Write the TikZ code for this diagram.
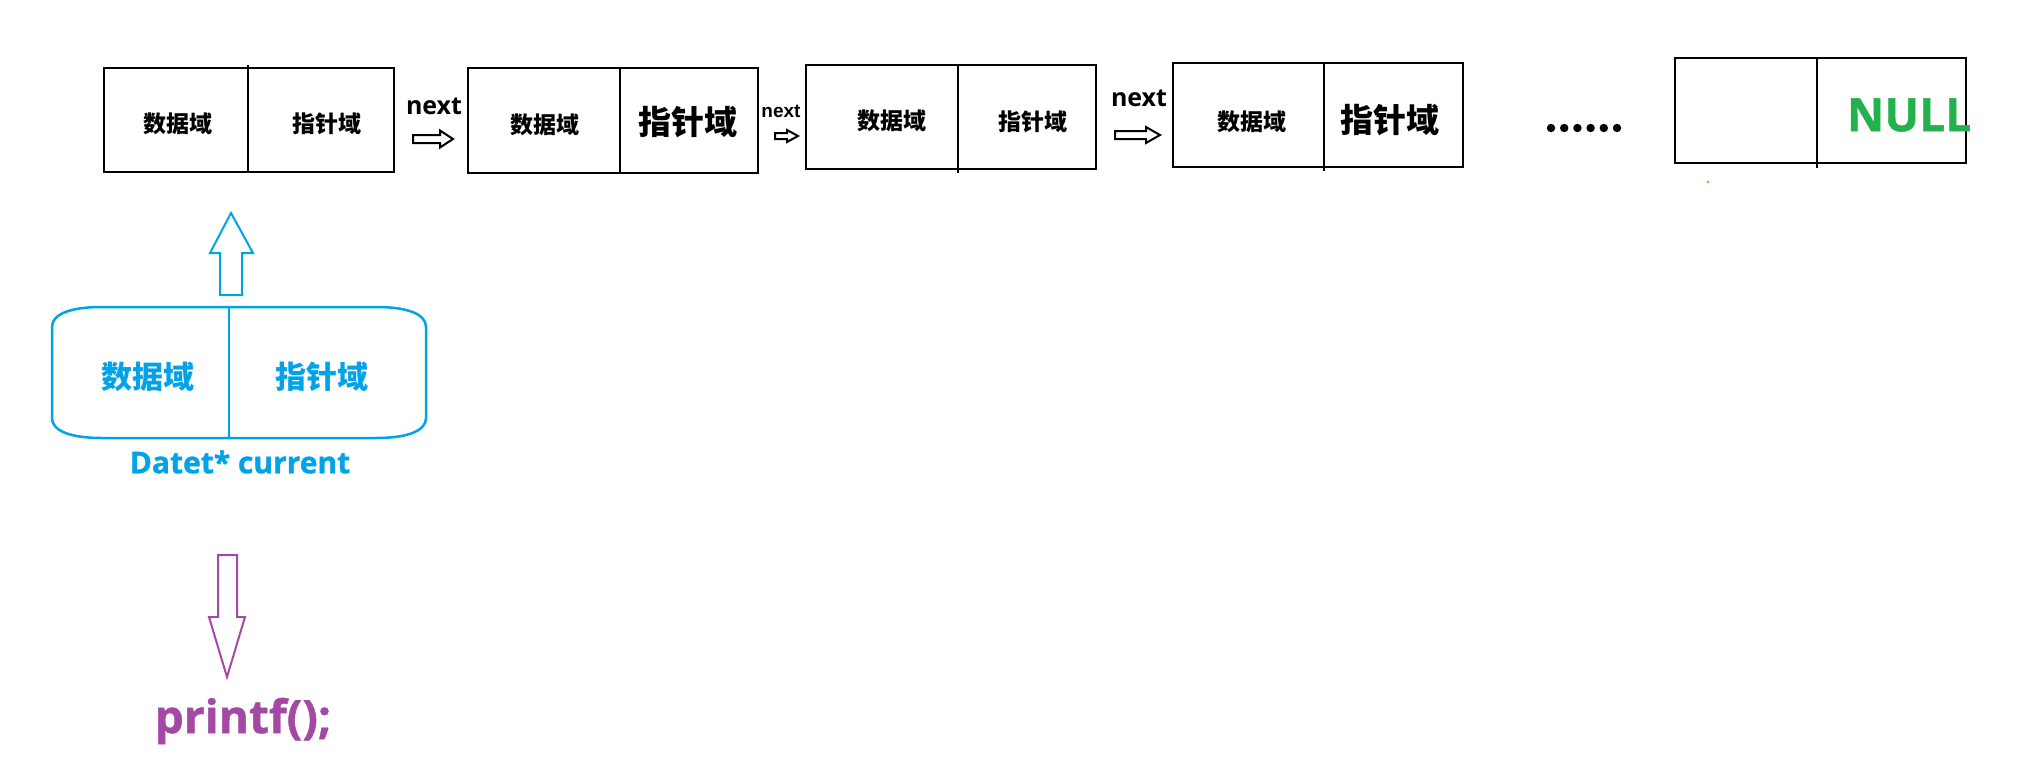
\documentclass[tikz,border=0pt]{standalone}
\usepackage{fontspec}
\newfontfamily\cjk{Noto Sans CJK SC}
\newfontfamily\lat{Open Sans}
\newfontfamily\latheavy{Open Sans}[BoldFeatures={FakeBold=1}]
\newfontfamily\narrowlat{Liberation Sans}
\definecolor{pblue}{HTML}{00A2E8}
\definecolor{ppurple}{HTML}{A349A4}
\definecolor{pgreen}{HTML}{22B14C}
\definecolor{porange}{HTML}{FF7F27}
\tikzset{
  cell/.style={draw=black, line width=2.3pt, inner sep=0pt, outer sep=0pt},
  txt/.style={inner sep=0pt, anchor=center},
  small/.style={txt, font=\cjk\bfseries\fontsize{23}{23}\selectfont},
  big/.style={txt, font=\cjk\bfseries\fontsize{33}{33}\selectfont},
  nextlbl/.style={txt, font=\lat\bfseries\fontsize{25}{25}\selectfont},
  hollow/.style={draw=black, line width=2pt, line join=miter, fill=white},
}
\begin{document}
\begin{tikzpicture}[x=1pt,y=-1pt]
\useasboundingbox (0,0) rectangle (2043,769);
% ---------- top list ----------
% box 1
\node[cell, minimum width=144pt, minimum height=104pt] (b1l) at (176,120) {};
\node[cell, minimum width=146pt, minimum height=104pt] (b1r) at (321,120) {};
\draw[line width=2.3pt] (b1l.north east) -- ++(0,-3);
\node[small] (t1a) at (178,124) {数据域};
\node[small] (t1b) at (327,124) {指针域};
% box 2
\node[cell, minimum width=152pt, minimum height=105pt] (b2l) at (544,120.5) {};
\node[cell, minimum width=138pt, minimum height=105pt] (b2r) at (689,120.5) {};
\node[small] (t2a) at (545,125) {数据域};
\node[big] (t2b) at (688,122) {指针域};
% box 3
\node[cell, minimum width=152pt, minimum height=104pt] (b3l) at (882,117) {};
\node[cell, minimum width=138pt, minimum height=104pt] (b3r) at (1027,117) {};
\draw[line width=2.3pt] (b3l.south east) -- ++(0,4);
\node[small] (t3a) at (892,121) {数据域};
\node[small] (t3b) at (1033,122) {指针域};
% box 4
\node[cell, minimum width=151pt, minimum height=104pt] (b4l) at (1248.5,115) {};
\node[cell, minimum width=139pt, minimum height=104pt] (b4r) at (1393.5,115) {};
\draw[line width=2.3pt] (b4l.south east) -- ++(0,4);
\node[small] (t4a) at (1252,122) {数据域};
\node[big] (t4b) at (1390,120) {指针域};
% box 5
\node[cell, minimum width=142pt, minimum height=105pt] (b5l) at (1746,110.5) {};
\node[cell, minimum width=149pt, minimum height=105pt] (b5r) at (1891.5,110.5) {};
\draw[line width=2.3pt] (b5l.south east) -- ++(0,5);
\node[txt, font=\latheavy\bfseries\fontsize{46}{46}\selectfont, text=pgreen] (null) at (1909,115) {NULL};
\fill[porange] (1708,182) circle (1.5);
% dots
\foreach \i in {0,...,5} \fill (1551+13.2*\i,128) circle (4.2);
% next labels
\node[nextlbl] (n1) at (434,106) {next};
\node[txt, font=\narrowlat\bfseries\fontsize{19}{19}\selectfont] (n2) at (781,111) {next};
\node[nextlbl] (n3) at (1139,98) {next};
% hollow arrows
\draw[hollow] (413,135) -- (440,135) -- (440,130.5) -- (453,139) -- (440,147.5) -- (440,143) -- (413,143) -- cycle;
\draw[hollow] (775,133) -- (787,133) -- (787,130) -- (798,136) -- (787,142) -- (787,139) -- (775,139) -- cycle;
\draw[hollow] (1115,131) -- (1146,131) -- (1146,127) -- (1160,135) -- (1146,143) -- (1146,139) -- (1115,139) -- cycle;
% ---------- current pointer ----------
\draw[pblue, line width=2.5pt] (102,307) -- (376,307) .. controls (410,307) and (426,315) .. (426,327)
  -- (426,418) .. controls (426,430) and (410,438) .. (376,438) -- (102,438)
  .. controls (68,438) and (52,430) .. (52,418) -- (52,327) .. controls (52,315) and (68,307) .. (102,307);
\coordinate (cur) at (229,307);
\draw[pblue, line width=2.5pt] (229,307) -- (229,438);
\node[txt, text=pblue, font=\cjk\bfseries\fontsize{31}{31}\selectfont] (ca) at (148,377) {数据域};
\node[txt, text=pblue, font=\cjk\bfseries\fontsize{31}{31}\selectfont] (cb) at (322,377) {指针域};
\node[txt, text=pblue, font=\latheavy\bfseries\fontsize{30}{30}\selectfont] (clbl) at (240,462) {Datet* current};
\draw[pblue, line width=2pt, line join=miter] (220,295) -- (220,253) -- (210,253) -- (231,213) -- (253,253) -- (242,253) -- (242,295) -- cycle;
% ---------- printf ----------
\draw[ppurple, line width=2pt, line join=miter] (218,555) -- (237,555) -- (237,617) -- (245,617) -- (227,677) -- (209,617) -- (218,617) -- cycle;
\node[txt, text=ppurple, font=\latheavy\bfseries\fontsize{46}{46}\selectfont] (pf) at (243,721) {printf();};
\end{tikzpicture}
\end{document}
